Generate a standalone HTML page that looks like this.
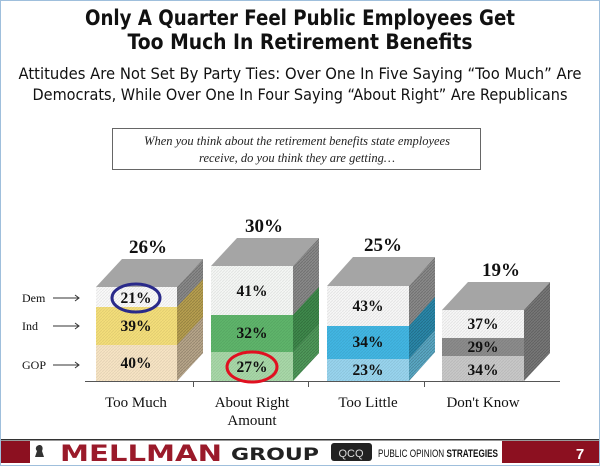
<!DOCTYPE html>
<html><head><meta charset="utf-8"><style>
body{margin:0;background:#fff;}
svg{display:block;}
</style></head><body>
<svg width="600" height="466" xmlns="http://www.w3.org/2000/svg">
<defs>
<pattern id="h" width="3" height="3" patternUnits="userSpaceOnUse"><path d="M0,3 L3,0" stroke="#000" stroke-opacity="0.18" stroke-width="1"/></pattern>
</defs>
<rect x="0.5" y="0.5" width="599" height="465" fill="#fff" stroke="#9fbfdc"/>
<g font-family="DejaVu Sans, sans-serif" text-anchor="middle" fill="#111">
<text x="300" y="25" font-size="21" font-weight="bold" textLength="430" lengthAdjust="spacingAndGlyphs">Only A Quarter Feel Public Employees Get</text>
<text x="300" y="49" font-size="21" font-weight="bold" textLength="345" lengthAdjust="spacingAndGlyphs">Too Much In Retirement Benefits</text>
<text x="300" y="79" font-size="16" textLength="563" lengthAdjust="spacingAndGlyphs">Attitudes Are Not Set By Party Ties:  Over One In Five Saying “Too Much” Are</text>
<text x="300" y="100" font-size="16" textLength="535" lengthAdjust="spacingAndGlyphs">Democrats, While Over One In Four Saying “About Right” Are Republicans</text>
</g>
<rect x="112.5" y="128.5" width="368" height="41" fill="#fff" stroke="#666"/>
<g font-family="Liberation Serif, serif" font-style="italic" font-size="12.5" text-anchor="middle" fill="#222">
<text x="297" y="145">When you think about the retirement benefits state employees</text>
<text x="297" y="162">receive, do you think they are getting…</text>
</g>

<polygon points="96,287 122,259 203,259 177,287" fill="#a5a5a5"/>
<polygon points="177,287 203,259 203,353 177,381" fill="#8a8a8a"/>
<polygon points="177,307 203,279 203,317 177,345" fill="#b8a050"/>
<polygon points="177,345 203,317 203,353 177,381" fill="#b8a68a"/>
<polygon points="177,287 203,259 203,353 177,381" fill="url(#h)"/>
<rect x="96" y="287" width="81" height="20" fill="#fafafa"/>
<rect x="96" y="307" width="81" height="38" fill="#f4de7a"/>
<rect x="96" y="345" width="81" height="36" fill="#f7e4c4"/>
<polygon points="211,266 237,238 319,238 293,266" fill="#a5a5a5"/>
<polygon points="293,266 319,238 319,353 293,381" fill="#8a8a8a"/>
<polygon points="293,315 319,287 319,324 293,352" fill="#3f8a4c"/>
<polygon points="293,352 319,324 319,353 293,381" fill="#4f9a5a"/>
<polygon points="293,266 319,238 319,353 293,381" fill="url(#h)"/>
<rect x="211" y="266" width="82" height="49" fill="#f5f7f5"/>
<rect x="211" y="315" width="82" height="37" fill="#5fb56b"/>
<rect x="211" y="352" width="82" height="29" fill="#a8d8a8"/>
<polygon points="327,286 353,257 435,257 409,286" fill="#a5a5a5"/>
<polygon points="409,286 435,257 435,352 409,381" fill="#8a8a8a"/>
<polygon points="409,326 435,297 435,330 409,359" fill="#2a88aa"/>
<polygon points="409,359 435,330 435,352 409,381" fill="#5aa8c4"/>
<polygon points="409,286 435,257 435,352 409,381" fill="url(#h)"/>
<rect x="327" y="286" width="82" height="40" fill="#f7f7f7"/>
<rect x="327" y="326" width="82" height="33" fill="#42b6e3"/>
<rect x="327" y="359" width="82" height="22" fill="#98d4ee"/>
<polygon points="442,310 468,282 550,282 524,310" fill="#a5a5a5"/>
<polygon points="524,310 550,282 550,353 524,381" fill="#777"/>
<polygon points="524,310 550,282 550,353 524,381" fill="url(#h)"/>
<rect x="442" y="310" width="82" height="28" fill="#f7f7f7"/>
<rect x="442" y="338" width="82" height="18" fill="#8c8c8c"/>
<rect x="442" y="356" width="82" height="25" fill="#c8c8c8"/>
<rect x="96" y="287" width="81" height="94" fill="url(#h)" opacity="0.4"/>
<rect x="211" y="266" width="82" height="115" fill="url(#h)" opacity="0.4"/>
<rect x="327" y="286" width="82" height="95" fill="url(#h)" opacity="0.4"/>
<rect x="442" y="310" width="82" height="71" fill="url(#h)" opacity="0.4"/>

<line x1="85" y1="381.5" x2="560" y2="381.5" stroke="#555"/>
<line x1="193.5" y1="381" x2="193.5" y2="387" stroke="#555"/>
<line x1="308.5" y1="381" x2="308.5" y2="387" stroke="#555"/>
<line x1="424.5" y1="381" x2="424.5" y2="387" stroke="#555"/>

<g font-family="Liberation Serif, serif" font-weight="bold" text-anchor="middle" fill="#111">
<text x="148" y="253" font-size="19">26%</text>
<text x="264" y="232" font-size="19">30%</text>
<text x="383" y="251" font-size="19">25%</text>
<text x="501" y="276" font-size="19">19%</text>
<g font-size="15.5">
<text x="136" y="303">21%</text><text x="136" y="331">39%</text><text x="136" y="368">40%</text>
<text x="252" y="296">41%</text><text x="252" y="338">32%</text><text x="252" y="372">27%</text>
<text x="368" y="311">43%</text><text x="368" y="347">34%</text><text x="368" y="375">23%</text>
<text x="483" y="329">37%</text><text x="483" y="352">29%</text><text x="483" y="375">34%</text>
</g>
</g>
<ellipse cx="136" cy="298" rx="24" ry="14" fill="none" stroke="#2a2a8a" stroke-width="3"/>
<ellipse cx="252" cy="367" rx="25" ry="15" fill="none" stroke="#e01020" stroke-width="3"/>

<g font-family="Liberation Serif, serif" font-size="12" fill="#111">
<text x="22" y="302">Dem</text>
<text x="22" y="330">Ind</text>
<text x="22" y="369">GOP</text>
</g>
<g stroke="#333" fill="none">
<path d="M53,298 H79 M75,295 L79,298 L75,301"/>
<path d="M53,326 H79 M75,323 L79,326 L75,329"/>
<path d="M53,365 H79 M75,362 L79,365 L75,368"/>
</g>

<g font-family="Liberation Serif, serif" font-size="15" text-anchor="middle" fill="#111">
<text x="136" y="407">Too Much</text>
<text x="252" y="407">About Right</text>
<text x="252" y="425">Amount</text>
<text x="368" y="407">Too Little</text>
<text x="483" y="407">Don't Know</text>
</g>

<rect x="1" y="439" width="598" height="1.5" fill="#333"/>
<rect x="1" y="441" width="598" height="22" fill="#8c1020"/>
<rect x="30" y="441" width="472" height="22" fill="#fff"/>
<path d="M37,446 c4,-3 7,1 5,5 l2,6 h-9 l2,-6 c-2,-2 -1,-4 0,-5z" fill="#333"/>
<text x="60" y="461" font-family="DejaVu Sans, sans-serif" font-size="22" font-weight="bold" textLength="162" lengthAdjust="spacingAndGlyphs" fill="#9a1a2a">MELLMAN</text>
<text x="231" y="460" font-family="DejaVu Sans, sans-serif" font-size="17" font-weight="bold" textLength="88" lengthAdjust="spacingAndGlyphs" fill="#222">GROUP</text>
<rect x="331" y="443" width="41" height="18" rx="3" fill="#222"/>
<text x="351" y="457" font-family="Liberation Sans, sans-serif" font-size="11" text-anchor="middle" fill="#ddd">QCQ</text>
<text x="378" y="457" font-family="Liberation Sans, sans-serif" font-size="11" textLength="120" lengthAdjust="spacingAndGlyphs" fill="#111">PUBLIC OPINION <tspan font-weight="bold">STRATEGIES</tspan></text>
<text x="580" y="459" font-family="Liberation Sans, sans-serif" font-size="15" font-weight="bold" text-anchor="middle" fill="#fff">7</text>
</svg>
</body></html>
